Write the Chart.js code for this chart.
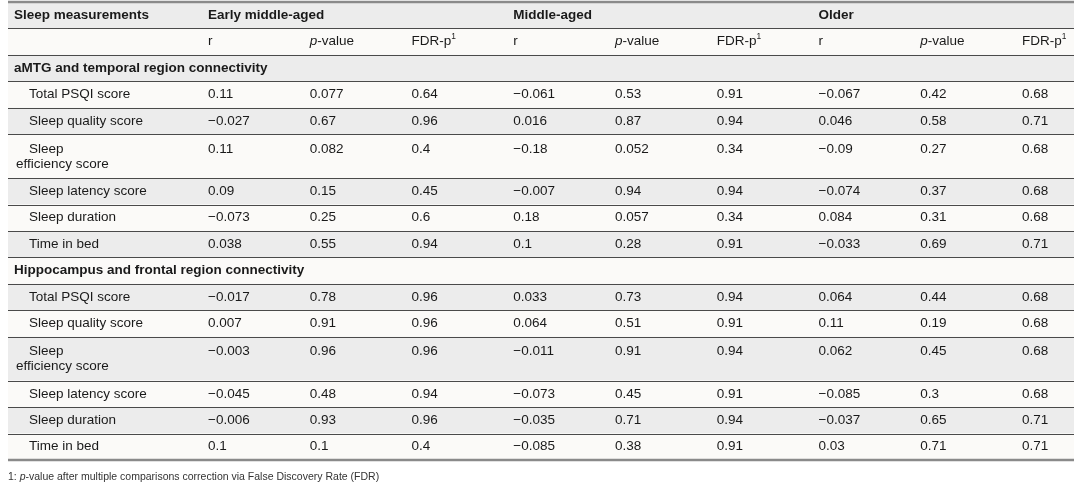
<!DOCTYPE html>
<html>
<head>
<meta charset="utf-8">
<script src="https://cdn.jsdelivr.net/npm/chart.js@4.4.1/dist/chart.umd.min.js"></script>
<style>
  html, body { margin: 0; padding: 0; background: #fff; }
  #table { display: block; }
</style>
</head>
<body>
<canvas id="table" width="1080" height="485"></canvas>
<script>
// column / row labels
const cornerLabel = 'Sleep measurements';
const groups = ['Early middle-aged', 'Middle-aged', 'Older'];
const statCols = ['r', '_p_-value', 'FDR-p^1^'];
const sections = ['aMTG and temporal region connectivity', 'Hippocampus and frontal region connectivity'];
const measures = ['Total PSQI score', 'Sleep quality score', 'Sleep\nefficiency score',
  'Sleep latency score', 'Sleep duration', 'Time in bed'];
const footnote = '1: _p_-value after multiple comparisons correction via False Discovery Rate (FDR)';

// aMTG and temporal region connectivity
const amtgEarlyR = [0.11, -0.027, 0.11, 0.09, -0.073, 0.038];
const amtgEarlyP = [0.077, 0.67, 0.082, 0.15, 0.25, 0.55];
const amtgEarlyFdr = [0.64, 0.96, 0.4, 0.45, 0.6, 0.94];
const amtgMidR = [-0.061, 0.016, -0.18, -0.007, 0.18, 0.1];
const amtgMidP = [0.53, 0.87, 0.052, 0.94, 0.057, 0.28];
const amtgMidFdr = [0.91, 0.94, 0.34, 0.94, 0.34, 0.91];
const amtgOldR = [-0.067, 0.046, -0.09, -0.074, 0.084, -0.033];
const amtgOldP = [0.42, 0.58, 0.27, 0.37, 0.31, 0.69];
const amtgOldFdr = [0.68, 0.71, 0.68, 0.68, 0.68, 0.71];

// Hippocampus and frontal region connectivity
const hippoEarlyR = [-0.017, 0.007, -0.003, -0.045, -0.006, 0.1];
const hippoEarlyP = [0.78, 0.91, 0.96, 0.48, 0.93, 0.1];
const hippoEarlyFdr = [0.96, 0.96, 0.96, 0.94, 0.96, 0.4];
const hippoMidR = [0.033, 0.064, -0.011, -0.073, -0.035, -0.085];
const hippoMidP = [0.73, 0.51, 0.91, 0.45, 0.71, 0.38];
const hippoMidFdr = [0.94, 0.91, 0.94, 0.91, 0.94, 0.91];
const hippoOldR = [0.064, 0.11, 0.062, -0.085, -0.037, 0.03];
const hippoOldP = [0.44, 0.19, 0.45, 0.3, 0.65, 0.71];
const hippoOldFdr = [0.68, 0.68, 0.68, 0.68, 0.71, 0.71];

const sectionCols = [
  [amtgEarlyR, amtgEarlyP, amtgEarlyFdr, amtgMidR, amtgMidP, amtgMidFdr, amtgOldR, amtgOldP, amtgOldFdr],
  [hippoEarlyR, hippoEarlyP, hippoEarlyFdr, hippoMidR, hippoMidP, hippoMidFdr, hippoOldR, hippoOldP, hippoOldFdr]
];

const FONT = "'Liberation Sans', Arial, Helvetica, sans-serif";
const TEXT = '#1a1a1a';
const BODY_SIZE = 13.5;
const LABEL_X = -1.907;   // left edge of the label column, in column units
const TALL = 1.66;        // height of a two-line row, in row units

function fmt(v) {
  return v < 0 ? '\u2212' + String(-v) : String(v);
}

// build the row layout (top, height) in row units
const rows = [];
let rowCursor = 0;
function addRow(kind, label, values) {
  const lines = label ? label.split('\n') : [''];
  const h = lines.length > 1 ? TALL : 1;
  rows.push({ kind, lines, values, top: rowCursor, h });
  rowCursor += h;
}
addRow('header', cornerLabel);
addRow('sub', '');
sections.forEach((s, si) => {
  addRow('section', s);
  measures.forEach((m, mi) => addRow('measure', m, sectionCols[si].map(col => col[mi])));
});
const tableBottom = rowCursor;

function firstLine(r) {
  return r.lines.length > 1 ? r.top + 0.56 : r.top + 0.5;
}

// datasets: each cell is a point placed by the scales
const valueCells = [];
const headerCells = [];
const labelCells = [];
rows.forEach(r => {
  const y = firstLine(r);
  if (r.kind === 'measure') {
    r.values.forEach((v, i) => valueCells.push({ x: i, y, text: fmt(v) }));
    r.lines.forEach((t, li) => labelCells.push({ x: LABEL_X, y: y + li * 0.57, text: t, dx: li ? 8 : 21, bold: false }));
  } else if (r.kind === 'section') {
    labelCells.push({ x: LABEL_X, y, text: r.lines[0], dx: 6, bold: true });
  } else if (r.kind === 'header') {
    labelCells.push({ x: LABEL_X, y, text: r.lines[0], dx: 6, bold: true });
    groups.forEach((g, gi) => headerCells.push({ x: gi * 3, y, text: g, bold: true }));
  } else if (r.kind === 'sub') {
    for (let i = 0; i < 9; i++) headerCells.push({ x: i, y, text: statCols[i % 3], bold: false });
  }
});
labelCells.push({ x: LABEL_X, y: tableBottom + 0.65, text: footnote, dx: 0, bold: false, size: 10.5, color: '#333' });

// draw text with _italic_ and ^superscript^ markup
function drawRich(ctx, x, y, text, size, bold) {
  const parts = text.split(/(_[^_]+_|\^[^^]+\^)/).filter(Boolean);
  let cx = x;
  parts.forEach(p => {
    let style = '', sz = size, dy = 0, t = p;
    if (p[0] === '_') { style = 'italic '; t = p.slice(1, -1); }
    if (p[0] === '^') { sz = size * 0.62; dy = -size * 0.35; t = p.slice(1, -1); }
    ctx.font = style + (bold ? 'bold ' : '') + sz + 'px ' + FONT;
    ctx.fillText(t, cx, y + dy);
    cx += ctx.measureText(t).width;
  });
}

const tableGrid = {
  id: 'tableGrid',
  beforeDatasetsDraw(chart) {
    const { ctx, scales: { x, y } } = chart;
    const left = x.getPixelForValue(x.min);
    const right = x.getPixelForValue(x.max);
    ctx.save();
    rows.forEach((r, i) => {
      const y0 = y.getPixelForValue(r.top);
      const y1 = y.getPixelForValue(r.top + r.h);
      ctx.fillStyle = i % 2 === 0 ? '#ececec' : '#fbfaf8';
      ctx.fillRect(left, y0, right - left, y1 - y0);
    });
    ctx.strokeStyle = '#4a4a4a';
    ctx.lineWidth = 1.2;
    rows.forEach((r, i) => {
      if (i === 0) return;
      const yy = Math.round(y.getPixelForValue(r.top)) + 0.5;
      ctx.beginPath();
      ctx.moveTo(left, yy);
      ctx.lineTo(right, yy);
      ctx.stroke();
    });
    ctx.strokeStyle = '#8a8a8a';
    ctx.lineWidth = 2.5;
    [0, tableBottom].forEach(v => {
      const yy = y.getPixelForValue(v);
      ctx.beginPath();
      ctx.moveTo(left, yy);
      ctx.lineTo(right, yy);
      ctx.stroke();
    });
    ctx.restore();
  }
};

const cellText = {
  id: 'cellText',
  afterDatasetsDraw(chart) {
    const { ctx } = chart;
    ctx.save();
    ctx.textBaseline = 'middle';
    ctx.textAlign = 'left';
    chart.data.datasets.forEach((ds, di) => {
      const meta = chart.getDatasetMeta(di);
      meta.data.forEach((pt, i) => {
        const c = ds.data[i];
        ctx.fillStyle = c.color || TEXT;
        drawRich(ctx, pt.x + (c.dx !== undefined ? c.dx : 6), pt.y, c.text, c.size || BODY_SIZE, c.bold);
      });
    });
    ctx.restore();
  }
};

const pointStyle = { pointRadius: 0, pointHoverRadius: 0, showLine: false };

new Chart(document.getElementById('table'), {
  type: 'scatter',
  data: {
    datasets: [
      { label: 'values', data: valueCells, ...pointStyle },
      { label: 'headers', data: headerCells, ...pointStyle },
      { label: 'labels', data: labelCells, ...pointStyle }
    ]
  },
  options: {
    responsive: false,
    animation: false,
    events: [],
    layout: { padding: { left: 8, right: 6, top: 2, bottom: 25 } },
    scales: {
      x: { type: 'linear', min: LABEL_X, max: 8.57, display: false },
      y: { type: 'linear', min: 0, max: tableBottom, reverse: true, display: false }
    },
    plugins: {
      legend: { display: false },
      tooltip: { enabled: false }
    }
  },
  plugins: [tableGrid, cellText]
});
</script>
</body>
</html>
